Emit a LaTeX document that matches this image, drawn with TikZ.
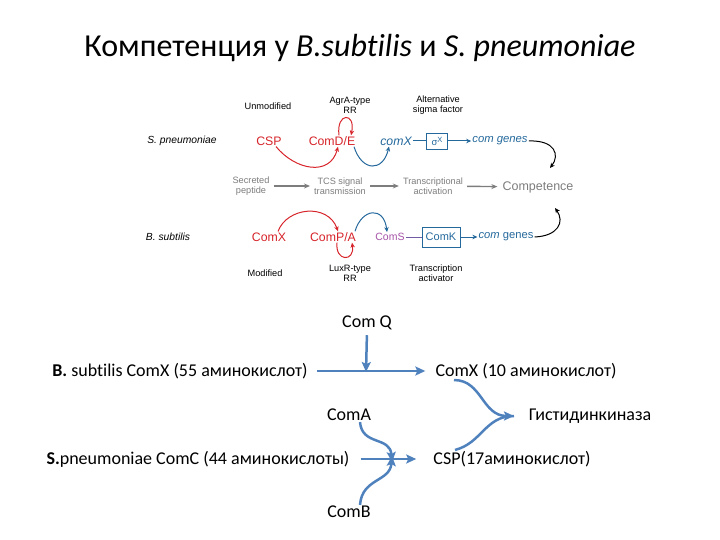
\documentclass[tikz,border=0pt]{standalone}
\usepackage{fontspec}
\setmainfont[Ligatures=NoCommon]{Carlito}
\newfontfamily\arialfont{Liberation Sans}
\usetikzlibrary{positioning,arrows.meta}
\definecolor{redc}{RGB}{214,36,42}
\definecolor{bluec}{RGB}{36,104,156}
\definecolor{purplec}{RGB}{165,82,168}
\definecolor{grayc}{RGB}{125,125,125}
\definecolor{steelc}{RGB}{79,129,189}

\begin{document}
\begin{tikzpicture}[x=1pt,y=-1pt,
    small/.style={font=\arialfont\fontsize{9.2}{10}\selectfont, align=center, inner sep=0pt},
    greylbl/.style={small, text=grayc},
    big/.style={font=\arialfont\fontsize{12.3}{14}\selectfont, inner sep=1pt},
    ru/.style={font=\fontsize{18}{21}\selectfont, inner sep=1pt},
    redarr/.style={redc, line width=1pt, -{Stealth[length=5pt,width=4.5pt]}},
    bluearr/.style={bluec, line width=1pt, -{Stealth[length=5pt,width=4.5pt]}},
    blackarr/.style={black, line width=1pt, -{Stealth[length=5pt,width=4.5pt]}},
    grayarr/.style={grayc, line width=1.4pt, shorten <=4pt, shorten >=4pt, -{Stealth[length=6pt,width=5pt]}},
    steelarr/.style={steelc, line width=2.5pt, -{Stealth[length=10pt,width=9pt,inset=2pt]}},
    steelline/.style={steelc, line width=2.5pt}]

  \useasboundingbox (0,0) rectangle (720,540);

  % ---- Title ----
  \node[font=\fontsize{32}{36}\selectfont] (title) at (360,48)
    {Компетенция у \textit{B.subtilis} и \textit{S. pneumoniae}};

  % ---- S. pneumoniae row ----
  \node[small] (unmod) at (268,106) {Unmodified};
  \node[small] (agra) at (350,105) {AgrA-type\\RR};
  \node[small] (altsig) at (438,105) {Alternative\\sigma factor};
  \node[big, font=\arialfont\itshape\fontsize{10.3}{12}\selectfont] (spn) at (182,141) {S. pneumoniae};
  \node[big, text=redc] (csp) at (269,141) {CSP};
  \node[big, text=redc] (comde) at (332,141) {ComD/E};
  \node[big, text=bluec, font=\arialfont\itshape\fontsize{12.3}{14}\selectfont] (comxg) at (396,141) {comX};
  \node[draw=bluec, line width=0.8pt, text=bluec, font=\arialfont\fontsize{9.5}{10}\selectfont,
        minimum width=21pt, minimum height=16pt, inner sep=0pt] (sigx) at (437,141)
        {σ\raisebox{0.6ex}{\fontsize{7.5}{8}\selectfont X}};
  \node[big, text=bluec, font=\arialfont\itshape\fontsize{11.3}{12}\selectfont] (genes1) at (500,141) {com genes};

  \draw[redarr] ([xshift=7pt]csp.south) .. controls (295,170) and (330,177) .. ([xshift=6pt]comde.south);
  \draw[redarr] ([xshift=7pt]comde.north) .. controls (336,112) and (356,112) .. ([xshift=19pt]comde.north);
  \draw[bluearr] ([xshift=22pt]comde.south) .. controls (362,172) and (383,172) .. ([xshift=-7pt]comxg.south);
  \draw[bluec, line width=1pt] (comxg.east) -- (sigx.west);
  \draw[bluearr] (sigx.east) -- (genes1.west);

  % ---- Process row ----
  \node[greylbl] (secr) at (251,186) {Secreted\\peptide};
  \node[greylbl] (tcs) at (340,186) {TCS signal\\transmission};
  \node[greylbl] (trans) at (433,186) {Transcriptional\\activation};
  \node[big, text=grayc, font=\arialfont\fontsize{12.5}{14}\selectfont] (compet) at (538,187) {Competence};
  \draw[grayarr] (secr) -- (tcs);
  \draw[grayarr] (tcs) -- (trans);
  \draw[grayarr] (trans) -- (compet);
  \draw[blackarr] (genes1.east) .. controls (555,140) and (560,155) .. (550,168);

  % ---- B. subtilis row ----
  \node[big, font=\arialfont\itshape\fontsize{10.3}{12}\selectfont] (bsu) at (168,237) {B. subtilis};
  \node[big, text=redc] (comx) at (269,237) {ComX};
  \node[big, text=redc] (compa) at (333,237) {ComP/A};
  \node[big, text=purplec, font=\arialfont\fontsize{10.5}{12}\selectfont] (coms) at (390,237) {ComS};
  \node[draw=bluec, line width=0.8pt, text=bluec, font=\arialfont\fontsize{11}{13}\selectfont,
        minimum width=38pt, minimum height=20pt, inner sep=0pt] (comk) at (441,237) {ComK};
  \node[big, text=bluec, font=\arialfont\fontsize{11.2}{12}\selectfont] (genes2) at (506,237) {\textit{com} genes};
  \node[small] (modif) at (265,273) {Modified};
  \node[small] (luxr) at (350,273) {LuxR-type\\RR};
  \node[small] (tact) at (436,273) {Transcription\\activator};

  \draw[redarr] ([xshift=9pt]comx.north) .. controls (287,207) and (328,203) .. ([xshift=5pt]compa.north);
  \draw[redarr] ([xshift=4pt]compa.south) .. controls (335,262) and (355,262) .. ([xshift=19pt]compa.south);
  \draw[bluearr] ([xshift=22pt]compa.north) .. controls (362,208) and (384,206) .. ([xshift=-3pt]coms.north);
  \draw[purplec!60!bluec, line width=1pt] (coms.east) -- (comk.west);
  \draw[bluearr] (comk.east) -- (genes2.west);
  \draw[blackarr] (genes2.east) .. controls (558,236) and (565,222) .. (555,208);

  % ---- Lower scheme ----
  \node[ru] (comq) at (367,323) {Com Q};
  \node[ru] (bsub) at (180,371) {\textbf{B.} subtilis ComX (55 аминокислот)};
  \node[ru] (comx10) at (526,371) {ComX (10 аминокислот)};
  \node[ru] (coma) at (349,415) {ComA};
  \node[ru] (kinase) at (590,416) {Гистидинкиназа};
  \node[ru] (spneu) at (198,459) {\textbf{S.}pneumoniae ComC (44 аминокислоты)};
  \node[ru] (csp17) at (512,459) {CSP(17аминокислот)};
  \node[ru] (comb) at (349,512) {ComB};
  \coordinate (jq) at (366,372);
  \coordinate (jc) at (392,459);
  \coordinate (jk) at (514,416);

  \draw[steelarr, shorten <=8pt, shorten >=9pt] (bsub.east) -- (comx10.west);
  \draw[steelarr, shorten <=4pt] (comq.south) -- (jq);
  \draw[steelarr, shorten <=10pt, shorten >=16pt] (spneu.east) -- (csp17.west);
  \draw[steelarr] ([xshift=11pt]coma.south) .. controls (362,446) and (390,436) .. ([yshift=-3pt]jc);
  \draw[steelarr] ([xshift=11pt]comb.north) .. controls (362,478) and (390,482) .. ([yshift=3pt]jc);
  \draw[steelarr] ([xshift=-72pt]comx10.south) .. controls (482,380) and (482,416) .. (jk);
  \draw[steelline] ([xshift=-57pt]csp17.north) .. controls (482,443) and (485,416) .. (jk);
\end{tikzpicture}
\end{document}
